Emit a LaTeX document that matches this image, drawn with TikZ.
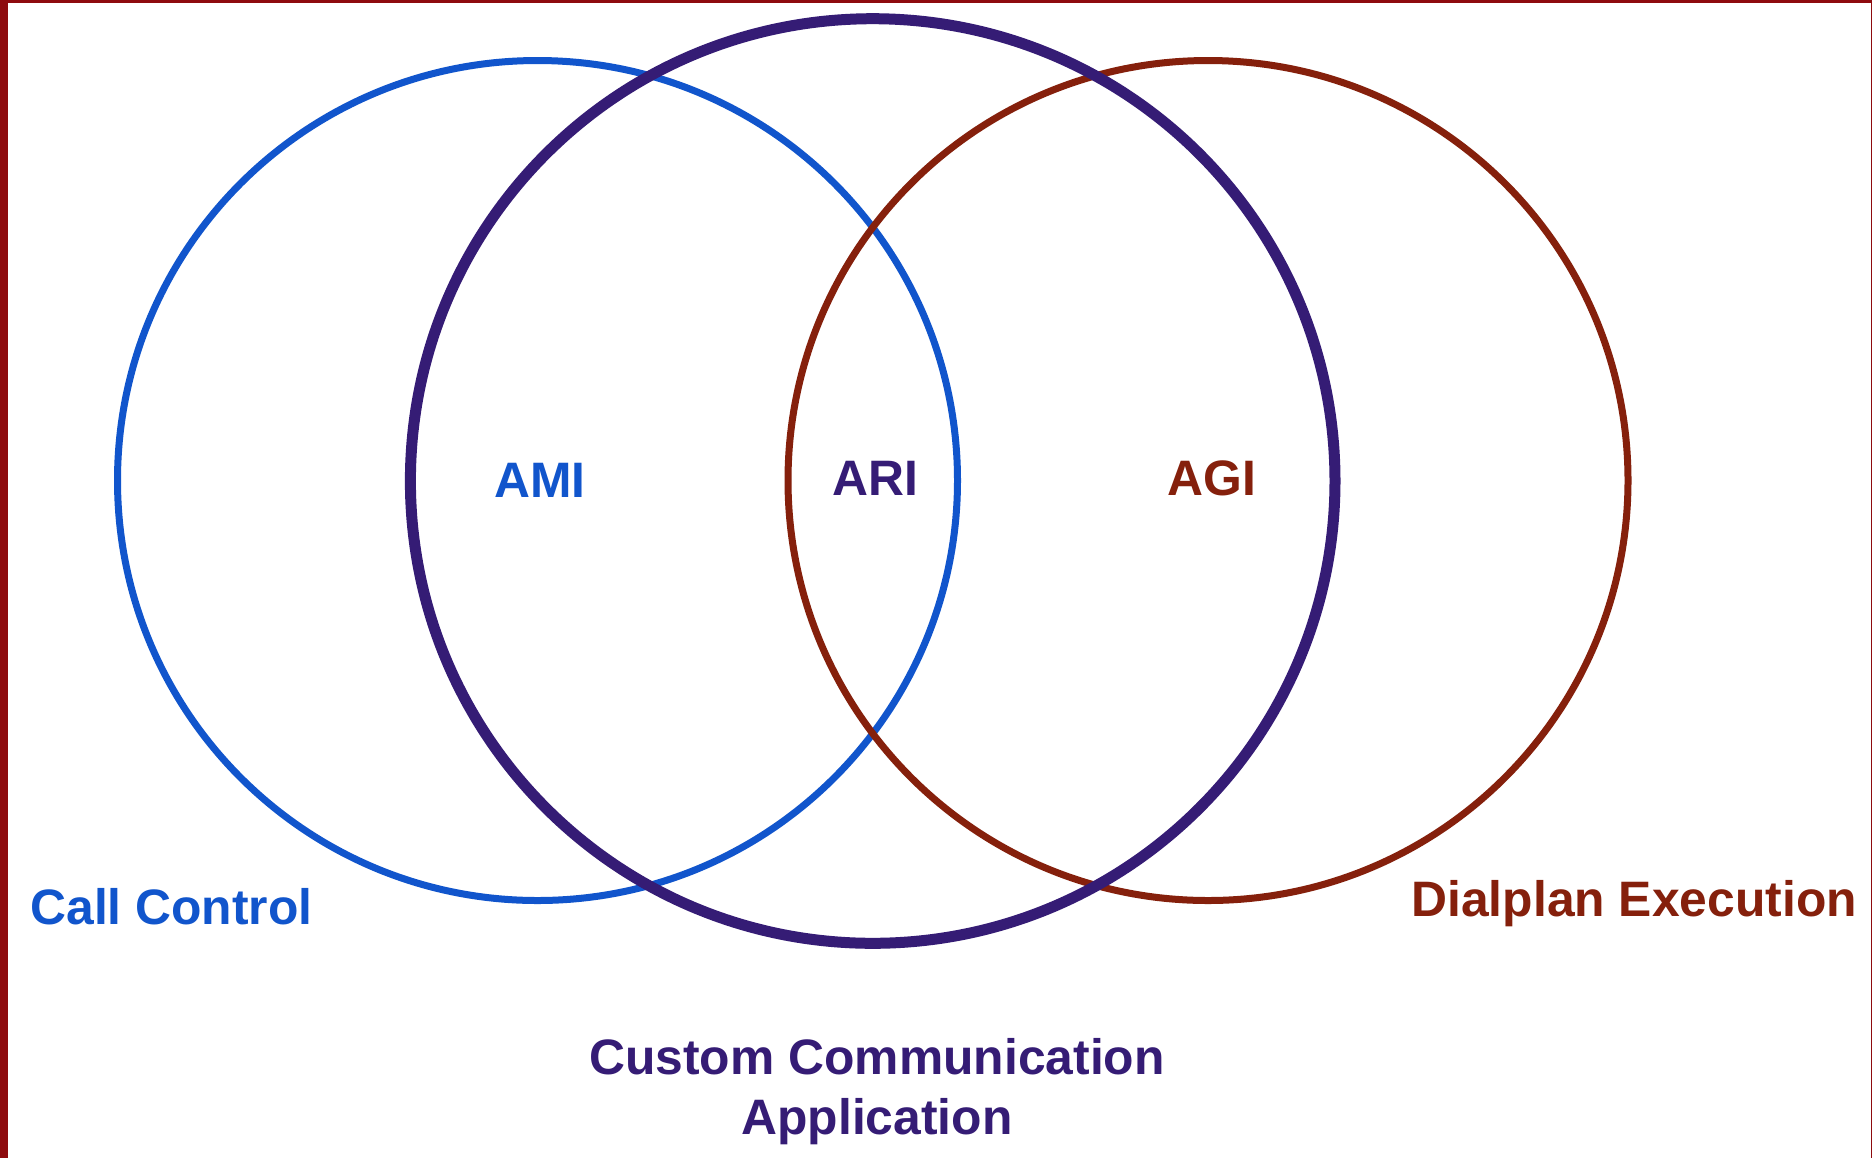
\documentclass[tikz,border=0pt]{standalone}
\usepackage{fontspec}
\setmainfont{Liberation Sans}
\usepackage{xcolor}
\usetikzlibrary{positioning}
\definecolor{ccblue}{HTML}{1155CC}
\definecolor{ccpurple}{HTML}{351C75}
\definecolor{ccred}{HTML}{85200C}
\definecolor{frame}{HTML}{8E0B0E}

\begin{document}
\begin{tikzpicture}[x=0.5pt, y=-0.5pt,
    ring/.style={line width=3.5pt},
    lbl/.style={font=\fontsize{24.9}{30}\selectfont\bfseries, inner sep=0pt}]
  \useasboundingbox (0,0) rectangle (1872,1158);
  \fill[white] (0,0) rectangle (1872,1158);
  % Frame edges
  \fill[frame] (0,0) rectangle (8,1158);
  \fill[frame] (0,0) rectangle (1872,3);
  \fill[frame] (1870.5,0) rectangle (1872,1158);
  % The three sets
  \draw[ring, ccblue] (537.5,480.5) circle (420);
  \draw[ring, ccred] (1208,480.5) circle (420);
  \draw[ring, line width=5.5pt, ccpurple] (872.7,481) circle (462.3);
  % Interfaces
  \node[lbl, ccblue, anchor=base] (ami) at (540,497) {AMI};
  \node[lbl, ccpurple, anchor=base] (ari) at (875,495) {ARI};
  \node[lbl, ccred, anchor=base] (agi) at (1212,495) {AGI};
  % Set names (base of a two-line node is its last line)
  \node[lbl, ccblue, anchor=base west] (callctl) at (30,924.5) {Call Control};
  \node[lbl, ccred, anchor=base west] (dialplan) at (1411,916) {Dialplan Execution};
  \node[lbl, ccpurple, anchor=base, align=center] (custom) at (877,1134)
       {Custom Communication\\Application};
\end{tikzpicture}
\end{document}
